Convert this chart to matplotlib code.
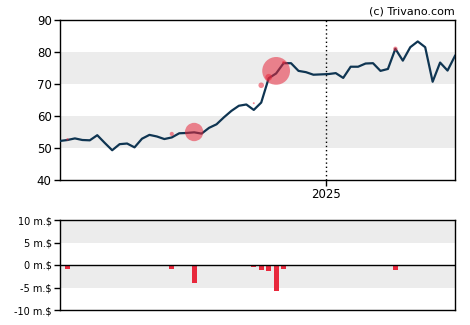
import matplotlib
matplotlib.use("Agg")
import matplotlib.pyplot as plt
import matplotlib.dates as mdates
import pandas as pd

# weekly closing prices
price_dates = pd.date_range("2024-04-26", periods=54, freq="7D")
prices = [52.2, 52.5, 53.0, 52.5, 52.4, 54.0, 51.6, 49.3, 51.2, 51.4,
          50.2, 52.9, 54.1, 53.6, 52.8, 53.3, 54.6, 54.7, 54.9, 54.5,
          56.3, 57.4, 59.6, 61.6, 63.2, 63.6, 61.9, 64.2, 71.8, 73.3,
          76.5, 76.5, 74.1, 73.7, 72.9, 73.0, 73.1, 73.4, 71.9, 75.4,
          75.4, 76.4, 76.5, 74.1, 74.7, 81.0, 77.3, 81.5, 83.3, 81.5,
          70.7, 76.7, 74.2, 78.8]

# insider transactions: date, price, bubble size, value in m.$
trade_dates = pd.to_datetime(["2024-05-03", "2024-08-09", "2024-08-30",
                              "2024-10-25", "2024-11-01", "2024-11-08",
                              "2024-11-15", "2024-11-22", "2025-03-07"])
trade_prices = [52.7, 54.4, 55.0, 64.0, 69.6, 72.1, 74.1, 76.7, 81.0]
bubble_sizes = [3, 9, 175, 2, 16, 24, 400, 5, 10]
trade_values = [-0.8, -0.8, -3.9, -0.35, -1.0, -1.25, -5.7, -0.8, -1.0]

line_color = "#0f3552"
red = "#e8283c"
band = "#ececec"

fig = plt.figure(figsize=(4.7, 3.25), dpi=100)
ax = fig.add_axes([60 / 470, 1 - 180 / 325, 395 / 470, 160 / 325])
ax2 = fig.add_axes([60 / 470, 1 - 310 / 325, 395 / 470, 90 / 325])

xlim = (price_dates[0], price_dates[-1])

# price panel
for lo, hi in [(50, 60), (70, 80)]:
    ax.axhspan(lo, hi, color=band, lw=0, zorder=0)
ax.plot(price_dates, prices, color=line_color, lw=1.6, zorder=3)
ax.scatter(trade_dates, trade_prices, s=bubble_sizes, color=red,
           alpha=0.55, lw=0, zorder=4)
ax.axvline(pd.Timestamp("2025-01-01"), color="black", ls=(0, (1, 2)),
           lw=1, zorder=2)
ax.set_xlim(*xlim)
ax.set_ylim(40, 90)
ax.set_yticks([40, 50, 60, 70, 80, 90])
ax.set_xticks([pd.Timestamp("2025-01-01")])
ax.xaxis.set_major_formatter(mdates.DateFormatter("%Y"))
ax.tick_params(labelsize=8.5, length=4, width=1, pad=2)
for s in ax.spines.values():
    s.set_linewidth(1)
ax.text(1.0, 1.02, "(c) Trivano.com", transform=ax.transAxes,
        ha="right", va="bottom", fontsize=8)

# transaction panel
for lo, hi in [(5, 10), (-5, 0)]:
    ax2.axhspan(lo, hi, color=band, lw=0, zorder=0)
ax2.bar(trade_dates, trade_values, width=4.5, color=red, zorder=3)
ax2.axhline(0, color="black", lw=1, zorder=4)
ax2.set_xlim(*xlim)
ax2.set_ylim(-10, 10)
ax2.set_yticks([-10, -5, 0, 5, 10])
ax2.set_yticklabels([f"{v} m.$" for v in [-10, -5, 0, 5, 10]])
ax2.set_xticks([])
ax2.tick_params(labelsize=7, length=4, width=1, pad=2)
for s in ax2.spines.values():
    s.set_linewidth(1)

fig.savefig("out.png", dpi=100)
